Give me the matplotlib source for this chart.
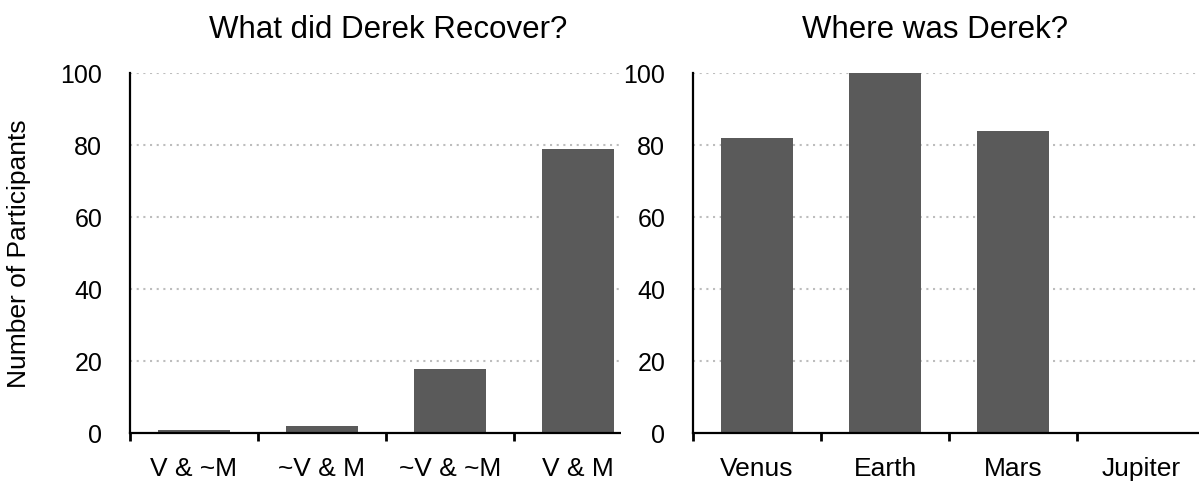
import matplotlib
matplotlib.use("Agg")
import matplotlib.pyplot as plt
from matplotlib.patches import Rectangle

plt.rcParams['font.family'] = ['Liberation Sans', 'DejaVu Sans']

left_title = "What did Derek Recover?"
left_cats = ["V & ~M", "~V & M", "~V & ~M", "V & M"]
left_vals = [1, 2, 18, 79]

right_title = "Where was Derek?"
right_cats = ["Venus", "Earth", "Mars", "Jupiter"]
right_vals = [82, 100, 84, 0]

ylabel = "Number of Participants"
yticks = [0, 20, 40, 60, 80, 100]

W, H = 1199, 482
fig = plt.figure(figsize=(W / 100, H / 100), dpi=100)

bar_color = "#5a5a5a"
grid_color = "#bdbdbd"
fs_ytick = 18
fs_xtick = 19
fs_title = 22.5
fs_ylabel = 19

def px_rect(x0, x1, ytop, ybot):
    return [x0 / W, (H - ybot) / H, (x1 - x0) / W, (ybot - ytop) / H]

ax1 = fig.add_axes(px_rect(130, 642, 73.3, 433.3))
ax2 = fig.add_axes(px_rect(693, 1205, 73.3, 433.3))

for ax, cats, vals in [(ax1, left_cats, left_vals), (ax2, right_cats, right_vals)]:
    n = len(cats)
    pos = list(range(n))
    ax.bar(pos, vals, width=0.57, color=bar_color, zorder=2)
    ax.set_xlim(-0.5, n - 0.5)
    ax.set_ylim(0, 100)
    ax.set_yticks(yticks)
    ax.set_yticklabels([str(v) for v in yticks], fontsize=fs_ytick)
    ax.tick_params(axis='y', length=0, pad=20)
    # boundary ticks (major), labels at centers (minor)
    ax.set_xticks([i - 0.5 for i in range(n + 1)])
    ax.set_xticklabels([])
    ax.set_xticks(pos, minor=True)
    ax.set_xticklabels(cats, minor=True, fontsize=fs_xtick)
    ax.tick_params(axis='x', which='major', direction='out', length=6, width=2, color='black')
    ax.tick_params(axis='x', which='minor', length=0, pad=17)
    for s in ['top', 'right']:
        ax.spines[s].set_visible(False)
    for s in ['left', 'bottom']:
        ax.spines[s].set_linewidth(1.6)
        ax.spines[s].set_zorder(3)
    for v in yticks[1:]:
        ax.axhline(v, color=grid_color, lw=1.5, linestyle=(0, (1, 2.2)), zorder=1)
    ax.set_facecolor('none')

ax1.set_ylabel(ylabel, fontsize=fs_ylabel)
ax1.yaxis.set_label_coords(-(130 - 31) / 512, 0.5)

# white panel hiding the right end of the left axes behind the right axis labels
fig.add_artist(Rectangle((620.5 / W, (H - 445) / H), (692 - 620.5) / W, (445 - 60) / H,
                         transform=fig.transFigure, facecolor='white', edgecolor='none', zorder=0.5))
ax2.set_zorder(1)

fig.text(388 / W, 1 - 30 / H, left_title, ha='center', va='center', fontsize=fs_title)
fig.text(935 / W, 1 - 30 / H, right_title, ha='center', va='center', fontsize=fs_title)

fig.savefig("out.png", dpi=100, facecolor='white')
